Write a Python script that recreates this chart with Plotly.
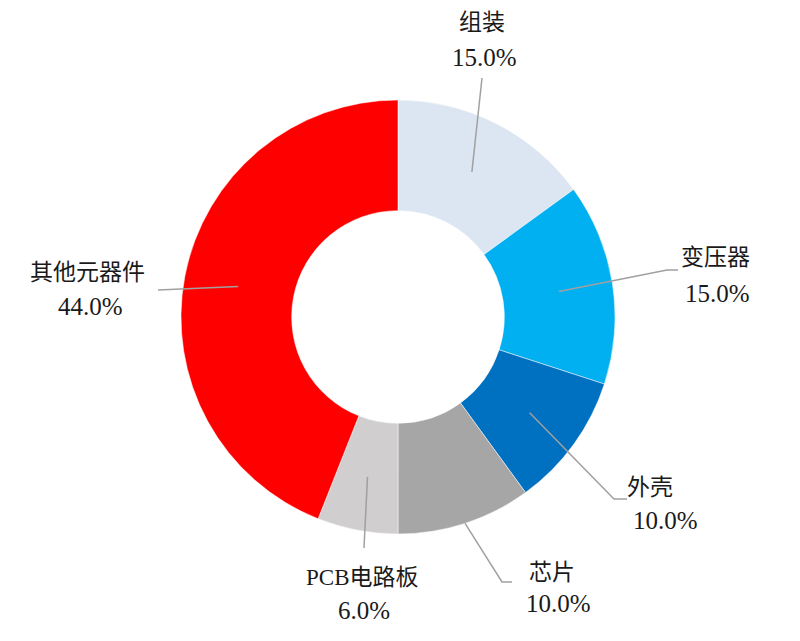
import math
import plotly.graph_objects as go

# ---- data ----
labels = ["组装", "变压器", "外壳", "芯片", "PCB电路板", "其他元器件"]
values = [15.0, 15.0, 10.0, 10.0, 6.0, 44.0]
colors = ["#DCE6F2", "#00B0F0", "#0070C0", "#A6A6A6", "#D0CECE", "#FF0000"]

# ---- layout parameters (pixels) ----
W, H = 800, 641
CX, CY, R = 398, 317, 217
HOLE = 0.49

# anchor radius fraction per slice (where the leader line starts)
anchor_frac = [0.75, 0.75, 0.75, 1.0, 0.75, 0.75]
# leader line bend / end points (pixels)
leader_pts = [
    [(482, 78)],
    [(667, 270), (678, 270)],
    [(614, 499), (627, 499)],
    [(502, 582), (512, 582)],
    [(364, 548)],
    [(158, 290)],
]
# label positions (pixels): name line centre, percentage line centre
name_pos = [(482, 22), (715, 258), (650, 487), (552, 572), (362, 577), (87, 272)]
pct_pos = [(485, 57), (717, 293), (665, 520), (558, 603), (364, 610), (90, 306)]


def px(x, y):
    return x / W, 1 - y / H


fig = go.Figure()
fig.add_trace(go.Pie(
    labels=labels, values=values, sort=False, direction="clockwise", rotation=0,
    hole=HOLE, marker=dict(colors=colors, line=dict(color="white", width=0.5)),
    textinfo="none", hoverinfo="label+percent", showlegend=False,
    domain=dict(x=[(CX - R) / W, (CX + R) / W], y=[1 - (CY + R) / H, 1 - (CY - R) / H]),
))

total = sum(values)
cum = 0.0
shapes = []
annotations = []
name_font = dict(family="Liberation Serif, Noto Sans CJK SC, serif", size=23, color="#1a1a1a")
pct_font = dict(family="Liberation Serif, serif", size=25, color="#1a1a1a")
for i, v in enumerate(values):
    mid = (cum + v / 2) / total * 2 * math.pi
    cum += v
    r = R * anchor_frac[i]
    ax, ay = CX + r * math.sin(mid), CY - r * math.cos(mid)
    pts = [px(ax, ay)] + [px(x, y) for x, y in leader_pts[i]]
    path = "M " + " L ".join(f"{x:.5f},{y:.5f}" for x, y in pts)
    shapes.append(dict(type="path", path=path, xref="paper", yref="paper",
                       line=dict(color="#A0A0A0", width=1.5)))
    nx, ny = px(*name_pos[i])
    annotations.append(dict(x=nx, y=ny, xref="paper", yref="paper", text=labels[i],
                            showarrow=False, font=name_font, xanchor="center", yanchor="middle"))
    qx, qy = px(*pct_pos[i])
    annotations.append(dict(x=qx, y=qy, xref="paper", yref="paper", text=f"{v / total * 100:.1f}%",
                            showarrow=False, font=pct_font, xanchor="center", yanchor="middle"))

fig.update_layout(
    width=W, height=H, margin=dict(l=0, r=0, t=0, b=0),
    paper_bgcolor="white", plot_bgcolor="white",
    shapes=shapes, annotations=annotations,
)

fig.write_html("out.html", config={"displayModeBar": False},
               post_script="document.body.style.margin='0';")
